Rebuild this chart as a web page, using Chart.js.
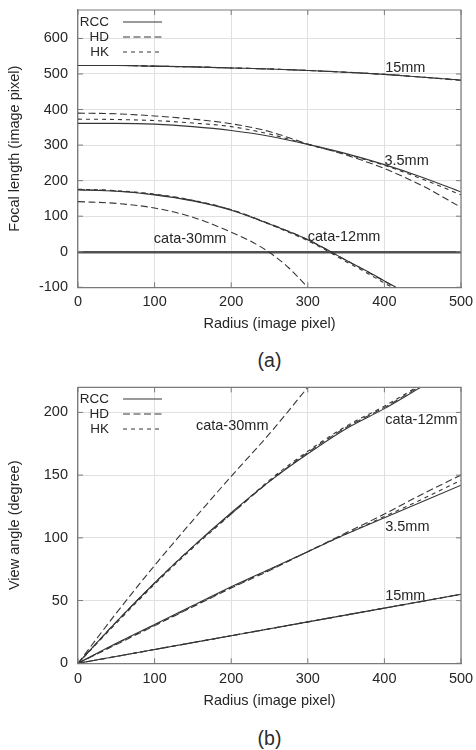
<!DOCTYPE html>
<html>
<head>
<meta charset="utf-8">
<script src="https://cdn.jsdelivr.net/npm/chart.js@4.4.1/dist/chart.umd.min.js"></script>
<style>
  html, body { margin: 0; padding: 0; background: #ffffff; }
  body { width: 476px; height: 750px; position: relative; overflow: hidden;
         font-family: "Liberation Sans", Arial, Helvetica, sans-serif; }
  canvas { position: absolute; left: 0; }
  .cap { position: absolute; left: 219.5px; width: 100px; text-align: center;
         font-size: 19.5px; line-height: 22px; color: #2b2b2b; }
</style>
</head>
<body>
<canvas id="chartA" width="476" height="345" style="top:0px"></canvas>
<div class="cap" style="top:349px">(a)</div>
<canvas id="chartB" width="476" height="345" style="top:377px"></canvas>
<div class="cap" style="top:727px">(b)</div>
<script>
// ---------------- DATA ----------------
// (a) Focal length (image pixel) vs radius (image pixel)
const radiusA      = [0, 50, 100, 150, 200, 250, 300, 350, 400, 450, 500];
const focal15_RCC  = [524, 524, 522, 520, 517, 514, 510, 505, 499, 491, 483];
const focal15_HD   = [524, 524, 522, 520, 517, 514, 510, 505, 499, 491, 482];
const focal15_HK   = [524, 524, 522, 520, 517, 514, 510, 505, 499, 491, 483];
const focal35_RCC  = [361, 361, 359, 352, 341, 325, 302, 276, 245, 209, 168];
const focal35_HD   = [390, 388, 382, 373, 360, 338, 303, 272, 234, 185, 125];
const focal35_HK   = [373, 372, 369, 362, 352, 331, 302, 274, 243, 204, 160];
const radiusA12    = [0, 50, 100, 150, 200, 250, 300, 330, 350, 375, 400, 415];
const focal12_RCC  = [174, 170, 160, 143, 117, 78, 34, 0, -24, -52, -82, -100];
const focal12_HD   = [175, 171, 161, 144, 118, 79, 34, 0, -24, -53, -83, -101];
const focal12_HK   = [176, 172, 162, 145, 118, 77, 31, -3, -28, -57, -88, -106];
const radiusA30    = [0, 50, 100, 150, 200, 225, 250, 275, 300];
const focal30_HD   = [141, 136, 123, 97, 55, 30, -2, -45, -100];

// (b) View angle (degree) vs radius (image pixel)
const radiusB15    = [0, 100, 200, 300, 400, 500];
const angle15_RCC  = [0, 11, 22, 33, 44, 55];
const angle15_HD   = [0, 11, 22, 33, 44, 55];
const angle15_HK   = [0, 11, 22, 33, 44, 55];
const radiusB      = [0, 50, 100, 150, 200, 250, 300, 350, 400, 450, 500];
const angle35_RCC  = [0, 16, 31, 46, 61, 75, 89, 103, 116, 129, 142];
const angle35_HD   = [0, 15, 30, 45, 60, 74, 89, 104, 119, 135, 150];
const angle35_HK   = [0, 15.5, 30.5, 45.5, 60.5, 74.5, 89, 103, 117, 131, 146];
const radiusB12    = [0, 50, 100, 150, 200, 250, 300, 350, 400, 450];
const angle12_RCC  = [0, 33, 64, 93, 120, 145, 167, 187, 203, 221];
const angle12_HD   = [0, 33, 64, 93, 119, 145, 168, 188, 204, 222];
const angle12_HK   = [0, 32, 63, 92, 119, 146, 169, 189, 205, 223];
const radiusB30    = [0, 50, 100, 150, 200, 250, 300];
const angle30_HD   = [0, 40, 78, 114, 149, 183, 220];

// Axis ticks
const xTicks  = [0, 100, 200, 300, 400, 500];
const yTicksA = [-100, 0, 100, 200, 300, 400, 500, 600];
const yTicksB = [0, 50, 100, 150, 200];

// Legend entries and curve labels (anchored in data units)
const methods = ['RCC', 'HD', 'HK'];
const labelsA = [
  { text: '15mm',      x: 401, y: 517 },
  { text: '3.5mm',     x: 400, y: 255 },
  { text: 'cata-12mm', x: 300, y: 41 },
  { text: 'cata-30mm', x: 99,  y: 36 }
];
const labelsB = [
  { text: 'cata-30mm', x: 154, y: 189 },
  { text: 'cata-12mm', x: 401, y: 194 },
  { text: '3.5mm',     x: 401, y: 109 },
  { text: '15mm',      x: 401, y: 54 }
];

// ---------------- STYLE ----------------
const FONT  = '"Liberation Sans", Arial, Helvetica, sans-serif';
const INK   = '#262626';
const LINE  = '#363636';
const GRID  = '#e0e0e0';
const FRAME = '#7a7a7a';
const DASH  = { RCC: [], HD: [7, 3.5], HK: [4, 4] };

function series(method, xs, ys) {
  return {
    label: method,
    data: xs.map((x, i) => ({ x: x, y: ys[i] })),
    showLine: true,
    borderColor: LINE,
    borderWidth: 1.1,
    borderDash: DASH[method],
    pointRadius: 0,
    pointHoverRadius: 0,
    cubicInterpolationMode: 'monotone',
    fill: false,
    clip: 0
  };
}

const decor = {
  id: 'decor',
  afterDatasetsDraw(chart, args, opts) {
    const { ctx, chartArea: a } = chart;
    const x = chart.scales.x, y = chart.scales.y;
    ctx.save();
    ctx.setLineDash([]);
    // top & right frame
    ctx.strokeStyle = FRAME;
    ctx.lineWidth = 1.2;
    ctx.beginPath();
    ctx.moveTo(a.left, a.top);
    ctx.lineTo(a.right, a.top);
    ctx.lineTo(a.right, a.bottom);
    ctx.stroke();
    // inward tick marks on all four sides
    ctx.lineWidth = 1;
    ctx.beginPath();
    x.ticks.forEach(t => {
      const p = x.getPixelForValue(t.value);
      ctx.moveTo(p, a.bottom); ctx.lineTo(p, a.bottom - 5);
      ctx.moveTo(p, a.top);    ctx.lineTo(p, a.top + 5);
    });
    y.ticks.forEach(t => {
      const p = y.getPixelForValue(t.value);
      ctx.moveTo(a.left, p);  ctx.lineTo(a.left + 5, p);
      ctx.moveTo(a.right, p); ctx.lineTo(a.right - 5, p);
    });
    ctx.stroke();
    // curve labels
    ctx.fillStyle = INK;
    ctx.font = '14.5px ' + FONT;
    ctx.textBaseline = 'middle';
    ctx.textAlign = 'left';
    opts.labels.forEach(l => {
      ctx.fillText(l.text, x.getPixelForValue(l.x), y.getPixelForValue(l.y));
    });
    // legend
    ctx.font = '13.5px ' + FONT;
    const lx = a.left + 31, ly = a.top + opts.legendTop;
    methods.forEach((m, i) => {
      const yy = ly + i * 15;
      ctx.textAlign = 'right';
      ctx.fillStyle = INK;
      ctx.fillText(m, lx, yy);
      ctx.strokeStyle = LINE;
      ctx.lineWidth = 1.1;
      ctx.setLineDash(DASH[m]);
      ctx.beginPath();
      ctx.moveTo(lx + 14, yy);
      ctx.lineTo(lx + 53, yy);
      ctx.stroke();
    });
    ctx.restore();
  }
};

function makeChart(id, datasets, cfg) {
  return new Chart(document.getElementById(id), {
    type: 'scatter',
    data: { datasets: datasets },
    plugins: [decor],
    options: {
      responsive: false,
      animation: false,
      devicePixelRatio: 1,
      events: [],
      layout: { padding: { top: cfg.padTop, right: 15, left: 0, bottom: 0 } },
      plugins: {
        legend: { display: false },
        tooltip: { enabled: false },
        decor: { labels: cfg.labels, legendTop: cfg.legendTop }
      },
      scales: {
        x: {
          type: 'linear', min: 0, max: 500,
          afterBuildTicks: s => { s.ticks = xTicks.map(v => ({ value: v })); },
          ticks: { padding: cfg.xTickPad, color: INK, font: { family: FONT, size: 14.5 }, maxRotation: 0 },
          grid: { color: GRID, lineWidth: 1, drawTicks: false },
          border: { display: true, color: FRAME, width: 1.2 },
          title: { display: true, text: 'Radius (image pixel)', color: INK,
                   font: { family: FONT, size: 14.5 }, padding: { top: 0, bottom: 12.4 } },
          afterFit: s => { s.height = cfg.xHeight; s.paddingLeft = 0; s.paddingRight = 0; s.paddingTop = 0; s.paddingBottom = 0; }
        },
        y: {
          type: 'linear', min: cfg.yMin, max: cfg.yMax,
          afterBuildTicks: s => { s.ticks = cfg.yTicks.map(v => ({ value: v })); },
          ticks: { padding: 10, color: INK, font: { family: FONT, size: 14.5 } },
          grid: {
            drawTicks: false,
            color: c => (cfg.zeroLine && c.tick && c.tick.value === 0) ? '#505050' : GRID,
            lineWidth: c => (cfg.zeroLine && c.tick && c.tick.value === 0) ? 2.4 : 1
          },
          border: { display: true, color: FRAME, width: 1.2 },
          title: { display: true, text: cfg.yTitle, color: INK,
                   font: { family: FONT, size: 14.5 }, padding: { top: 6.3, bottom: 0 } },
          afterFit: s => { s.width = 78; s.paddingLeft = 0; s.paddingRight = 0; s.paddingTop = 0; s.paddingBottom = 0; }
        }
      }
    }
  });
}

makeChart('chartA', [
  series('RCC', radiusA, focal15_RCC), series('HD', radiusA, focal15_HD), series('HK', radiusA, focal15_HK),
  series('RCC', radiusA, focal35_RCC), series('HD', radiusA, focal35_HD), series('HK', radiusA, focal35_HK),
  series('RCC', radiusA12, focal12_RCC), series('HD', radiusA12, focal12_HD), series('HK', radiusA12, focal12_HK),
  series('HD', radiusA30, focal30_HD)
], {
  padTop: 10, xHeight: 57.7, xTickPad: 6.3, yMin: -100, yMax: 680, yTicks: yTicksA,
  yTitle: 'Focal length (image pixel)', zeroLine: true, labels: labelsA, legendTop: 12
});

makeChart('chartB', [
  series('RCC', radiusB15, angle15_RCC), series('HD', radiusB15, angle15_HD), series('HK', radiusB15, angle15_HK),
  series('RCC', radiusB, angle35_RCC), series('HD', radiusB, angle35_HD), series('HK', radiusB, angle35_HK),
  series('RCC', radiusB12, angle12_RCC), series('HD', radiusB12, angle12_HD), series('HK', radiusB12, angle12_HK),
  series('HD', radiusB30, angle30_HD)
], {
  padTop: 10.3, xHeight: 58.7, xTickPad: 7, yMin: 0, yMax: 220, yTicks: yTicksB,
  yTitle: 'View angle (degree)', zeroLine: false, labels: labelsB, legendTop: 11.7
});
</script>
</body>
</html>
